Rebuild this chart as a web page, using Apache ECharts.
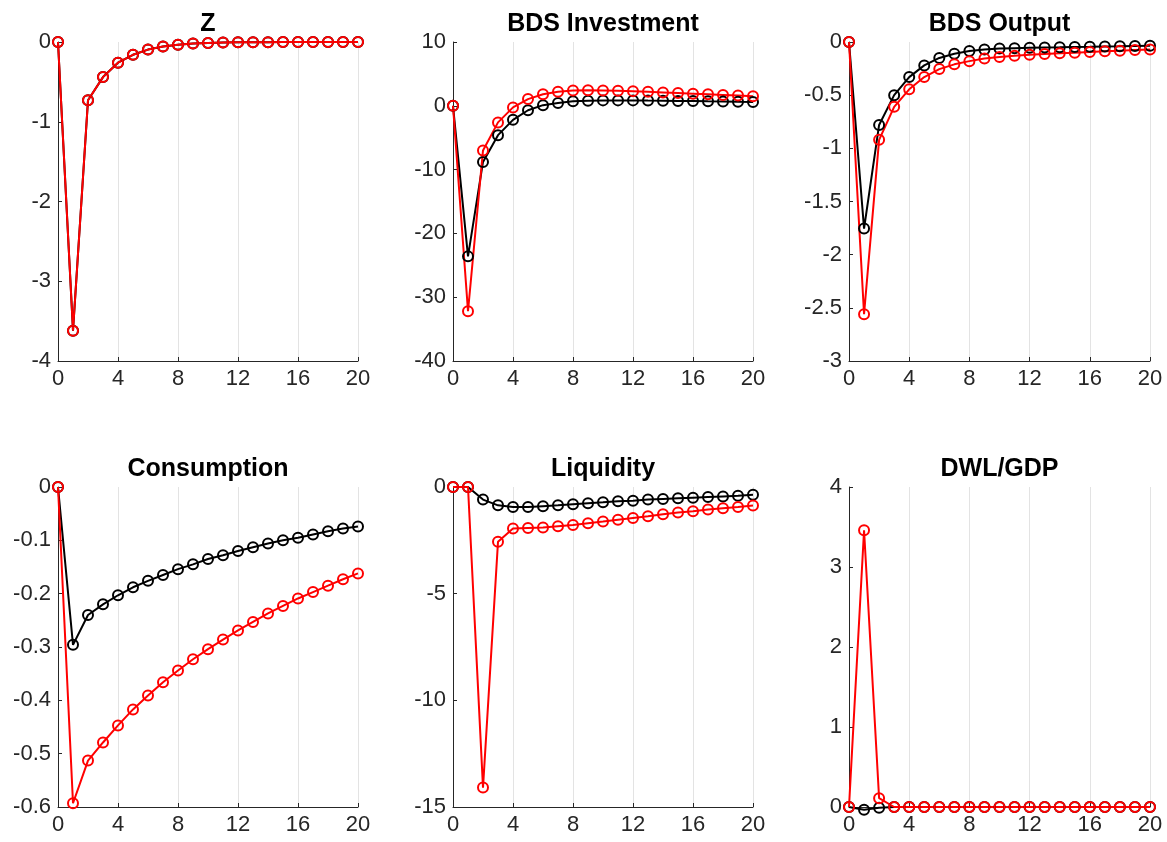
<!DOCTYPE html>
<html>
<head>
<meta charset="utf-8">
<script src="https://cdn.jsdelivr.net/npm/echarts@6/dist/echarts.min.js"></script>
<style>html,body{margin:0;padding:0;background:#fff;}#c{width:1167px;height:842px;}</style>
</head>
<body>
<div id="c"></div>
<script>
const periods = [0,1,2,3,4,5,6,7,8,9,10,11,12,13,14,15,16,17,18,19,20];
const titles = ['Z','BDS Investment','BDS Output','Consumption','Liquidity','DWL/GDP'];

const zBlack = [0,-3.62,-0.73,-0.44,-0.26,-0.16,-0.095,-0.057,-0.034,-0.02,-0.012,-0.007,-0.004,-0.003,-0.002,-0.001,-0.001,0,0,0,0];
const zRed   = [0,-3.62,-0.73,-0.44,-0.26,-0.16,-0.095,-0.057,-0.034,-0.02,-0.012,-0.007,-0.004,-0.003,-0.002,-0.001,-0.001,0,0,0,0];

const invBlack = [0,-23.6,-8.8,-4.6,-2.2,-0.7,0.1,0.45,0.7,0.8,0.85,0.85,0.85,0.82,0.8,0.77,0.74,0.7,0.67,0.63,0.6];
const invRed   = [0,-32.2,-7.0,-2.6,-0.25,1.05,1.8,2.2,2.4,2.45,2.4,2.35,2.3,2.2,2.1,2.0,1.9,1.8,1.7,1.6,1.5];

const outBlack = [0,-1.755,-0.78,-0.5,-0.33,-0.22,-0.15,-0.11,-0.085,-0.07,-0.062,-0.058,-0.055,-0.052,-0.05,-0.047,-0.045,-0.042,-0.04,-0.037,-0.035];
const outRed   = [0,-2.56,-0.92,-0.61,-0.445,-0.33,-0.255,-0.21,-0.18,-0.155,-0.14,-0.13,-0.12,-0.113,-0.106,-0.1,-0.094,-0.088,-0.082,-0.076,-0.07];

const conBlack = [0,-0.296,-0.24,-0.22,-0.203,-0.188,-0.176,-0.165,-0.154,-0.145,-0.135,-0.128,-0.12,-0.113,-0.106,-0.1,-0.095,-0.089,-0.083,-0.078,-0.074];
const conRed   = [0,-0.593,-0.513,-0.479,-0.447,-0.417,-0.391,-0.366,-0.344,-0.323,-0.304,-0.286,-0.269,-0.253,-0.237,-0.223,-0.209,-0.197,-0.185,-0.173,-0.162];

const liqBlack = [0,0,-0.59,-0.86,-0.94,-0.94,-0.9,-0.86,-0.81,-0.76,-0.72,-0.67,-0.64,-0.59,-0.56,-0.53,-0.5,-0.47,-0.44,-0.41,-0.36];
const liqRed   = [0,0,-14.09,-2.57,-1.95,-1.92,-1.9,-1.84,-1.78,-1.7,-1.62,-1.53,-1.45,-1.37,-1.28,-1.2,-1.14,-1.06,-1.0,-0.94,-0.87];

const dwlBlack = [0,-0.035,-0.008,0,0,0,0,0,0,0,0,0,0,0,0,0,0,0,0,0,0];
const dwlRed   = [0,3.46,0.11,0,0,0,0,0,0,0,0,0,0,0,0,0,0,0,0,0,0];

const yMin = [-4,-40,-3,-0.6,-15,0];
const yMax = [0,10,0,0,0,4];
const yStep = [1,10,0.5,0.1,5,1];
const xTicks = [0,4,8,12,16,20];

const blackSets = [zBlack,invBlack,outBlack,conBlack,liqBlack,dwlBlack];
const redSets = [zRed,invRed,outRed,conRed,liqRed,dwlRed];

const lefts = [58,453,849];
const widths = [300,300,301];
const tops = [42,487];
const heights = [319,320];
const titleTops = [12,457];

const grids=[], xAxes=[], yAxes=[], series=[], titleArr=[];
const axisCol = '#262626';
const font = 'Liberation Sans, Arial, sans-serif';
for (let i=0;i<6;i++){
  const c=i%3, r=Math.floor(i/3);
  grids.push({left:lefts[c], top:tops[r], width:widths[c], height:heights[r], containLabel:false});
  xAxes.push({type:'value', gridIndex:i, min:xTicks[0], max:xTicks[xTicks.length-1], interval:xTicks[1]-xTicks[0],
    axisLine:{show:true, onZero:false, lineStyle:{color:axisCol,width:1}},
    axisTick:{show:true, inside:true, length:4, lineStyle:{color:axisCol}},
    axisLabel:{color:axisCol, fontSize:22, fontFamily:font, margin:7},
    splitLine:{show:true, lineStyle:{color:'#e3e3e3', width:1}}
  });
  yAxes.push({type:'value', gridIndex:i, min:yMin[i], max:yMax[i], interval:yStep[i],
    axisLine:{show:true, onZero:false, lineStyle:{color:axisCol,width:1}},
    axisTick:{show:true, inside:true, length:4, lineStyle:{color:axisCol}},
    axisLabel:{color:axisCol, fontSize:22, fontFamily:font, margin:7},
    splitLine:{show:false}
  });
  const mk = (vals,color)=>({type:'line', xAxisIndex:i, yAxisIndex:i,
    data: periods.map((p,k)=>[p,vals[k]]),
    symbol:'circle', symbolSize:10, showAllSymbol:true, clip:false,
    lineStyle:{color:color,width:2}, itemStyle:{color:'rgba(0,0,0,0)',borderColor:color,borderWidth:2},
    emphasis:{disabled:true}, animation:false});
  series.push(mk(blackSets[i],'#000000'));
  series.push(mk(redSets[i],'#ff0000'));
  titleArr.push({text:titles[i], left:lefts[c]+widths[c]/2, top:titleTops[r], textAlign:'center', padding:0,
    textStyle:{fontSize:25, fontWeight:'bold', color:'#000', fontFamily:font}});
}
const chart = echarts.init(document.getElementById('c'), null, {renderer:'canvas'});
chart.setOption({animation:false, backgroundColor:'#fff', title:titleArr, grid:grids, xAxis:xAxes, yAxis:yAxes, series:series});
</script>
</body>
</html>
